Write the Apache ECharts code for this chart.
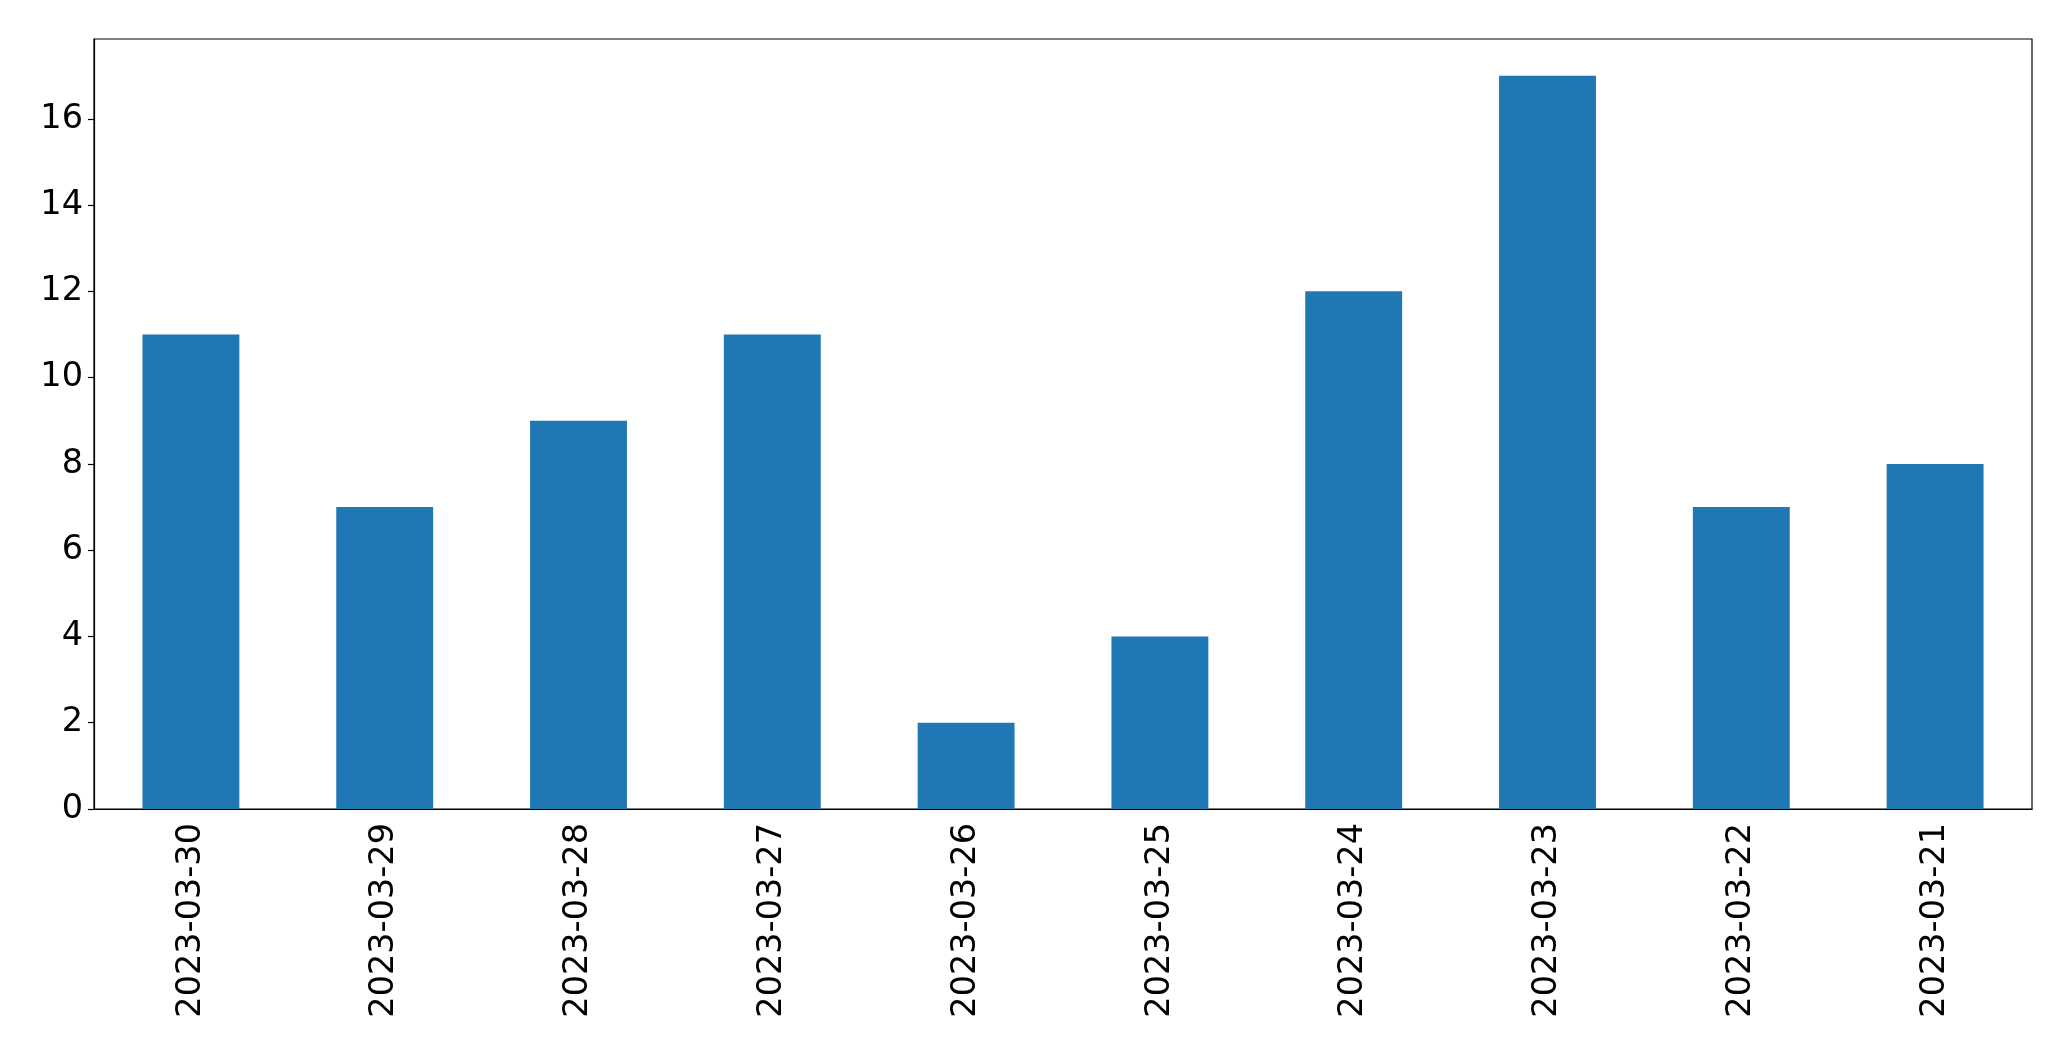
<!DOCTYPE html>
<html><head><meta charset="utf-8">
<script src="https://cdn.jsdelivr.net/npm/echarts@6/dist/echarts.min.js"></script>
<style>html,body{margin:0;padding:0;background:#fff}#c{width:2071px;height:1061px}</style>
</head><body><div id="c"></div>
<script>
const categories = ["2023-03-30","2023-03-29","2023-03-28","2023-03-27","2023-03-26","2023-03-25","2023-03-24","2023-03-23","2023-03-22","2023-03-21"];
const values = [11,7,9,11,2,4,12,17,7,8];
const yTicks = [0,2,4,6,8,10,12,14,16];

const chart = echarts.init(document.getElementById('c'), null, {renderer:'canvas'});
const font = 'DejaVu Sans';
chart.setOption({
  animation:false,
  backgroundColor:'#fff',
  grid:{left:94,right:39,top:39,bottom:252,show:true,borderColor:'#000',borderWidth:1.2,containLabel:false},
  xAxis:{type:'category',data:categories,
    axisLine:{lineStyle:{color:'#000',width:1.2}},
    axisTick:{alignWithLabel:true,length:6,lineStyle:{color:'#000',width:1.2}},
    axisLabel:{rotate:90,color:'#000',fontFamily:font,fontSize:33.5,margin:14,interval:0},
    splitLine:{show:false}},
  yAxis:{type:'value',min:0,max:17.85,
    axisLine:{show:true,lineStyle:{color:'#000',width:1.2}},
    axisTick:{show:true,length:6,lineStyle:{color:'#000',width:1.2},customValues:yTicks},
    axisLabel:{color:'#000',fontFamily:font,fontSize:33.5,margin:11,customValues:yTicks},
    splitLine:{show:false}},
  series:[{type:'bar',data:values,barWidth:'50%',itemStyle:{color:'#1f77b4'}}]
});
</script></body></html>
